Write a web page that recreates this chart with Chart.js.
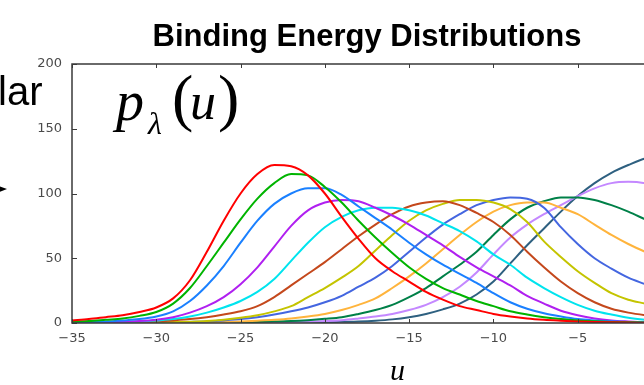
<!DOCTYPE html>
<html>
<head>
<meta charset="utf-8">
<script src="https://cdn.jsdelivr.net/npm/chart.js@4.4.1/dist/chart.umd.min.js"></script>
<style>
  html, body { margin: 0; padding: 0; background: #fff; overflow: hidden; width: 644px; height: 385px; }
  #wrap { position: absolute; left: 0; top: 0; width: 734px; height: 385px; }
  .ov { position: absolute; white-space: nowrap; color: #000; line-height: 1; }
  .serif { font-family: "Liberation Serif", "Times New Roman", serif; }
  #arrow { position: absolute; left: -1px; top: 186px; width: 0; height: 0;
           border-left: 8px solid #000; border-top: 3.5px solid transparent; border-bottom: 3.5px solid transparent; }
</style>
</head>
<body>
<div id="wrap"><canvas id="chart" width="734" height="385"></canvas></div>

<!-- slide text around the plot -->
<div class="ov" style="left:-2px; top:71px; font-size:40px; font-family:'Liberation Sans', Arial, sans-serif;">lar</div>
<div id="arrow"></div>
<div class="ov serif" style="left:116px; top:73px; font-size:56px; font-style:italic;">p</div>
<div class="ov serif" style="left:148px; top:107px; font-size:32px; font-style:italic;">λ</div>
<div class="ov serif" style="left:172px; top:66px; font-size:64px;">(</div>
<div class="ov serif" style="left:190px; top:76px; font-size:52px; font-style:italic;">u</div>
<div class="ov serif" style="left:218px; top:66px; font-size:64px;">)</div>
<div class="ov serif" style="left:390px; top:355px; font-size:30px; font-style:italic;">u</div>

<script>
// binding energy u (x), one value per unit
const uValues = [-35,-34,-33,-32,-31,-30,-29,-28,-27,-26,-25,-24,-23,-22,-21,-20,-19,-18,
                 -17,-16,-15,-14,-13,-12,-11,-10,-9,-8,-7,-6,-5,-4,-3,-2,-1,0];

// p_lambda(u), one array per lambda
const red     = [2,3,4.5,6,8.5,12,19,33,55,79,100,115,122,121,114,100,82,65,
                 50,40,32,24,18,13,10,7,5,3.5,2.5,1.8,1.2,0.8,0.5,0.3,0.2,0.1];
const green   = [1,1.5,2.5,3.5,5.5,8.5,15,27,44,62,80,96,108,115,114,105,93,79,
                 66,54,43,34,27,22,17,13,9,6.5,4.5,3,2,1.3,0.8,0.5,0.3,0.2];
const blue    = [0.5,0.8,1.2,2,3,5,9,17,29,44,62,79,92,100,104,104,99,90,
                 81,72,62,53,45,38,31,23,16,11,7.5,5,3,2,1.3,0.8,0.5,0.3];
const violet  = [0.2,0.3,0.5,1,1.5,2.5,4.5,8,13,20,30,43,59,75,87,93,95,94,
                 89,83,76,68,60,51,43,36,29,21,15,9.5,6,3.5,2,1.2,0.6,0.3];
const cyan    = [0.2,0.3,0.5,0.8,1.2,2,3,5,8,12,17,24,34,48,62,74,82,87,
                 89,89,87,83,77,71,63,53,45,35,27,20,14,9.5,6.5,4,2.5,1.5];
const brown   = [0.1,0.2,0.3,0.5,0.8,1.2,2,3,4.5,6.5,9,13,20,29,38,47,57,67,
                 76,84,90,93,94,91,85,78,68,55,43,32,23,16,11,8,6,4.5];
const olive   = [0,0.1,0.1,0.2,0.3,0.5,0.7,1,1.5,2.5,4,6,9,13,20,27,35,44,
                 56,68,79,87,92,95,95,93,88,78,63,51,40,31,23,18,15,12];
const royal   = [0,0,0.1,0.1,0.2,0.3,0.5,0.8,1.2,2,3,4.5,6.5,9,12,16,21,28,
                 35,44,55,66,76,84,91,95,97,96,89,74,61,50,42,35,30,25];
const orange  = [0,0,0,0.1,0.1,0.2,0.3,0.4,0.6,0.8,1.2,1.8,2.5,3.5,5,7,10,14,
                 19,27,36,46,57,68,78,86,91,93,93,89,84,76,68,61,55,49];
const dgreen  = [0,0,0,0,0,0.1,0.1,0.2,0.3,0.4,0.6,0.8,1.1,1.5,2.2,3.2,4.5,7,
                 10,14,20,27,36,45,55,68,80,89,94,97,97,95,91,86,80,74];
const lilac   = [0,0,0,0,0,0,0,0.1,0.1,0.2,0.2,0.3,0.4,0.6,1,1.5,2.2,3.5,
                 5,7,10,14,20,28,39,53,66,76,84,91,98,104,108,109,108,105];
const slate   = [0,0,0,0,0,0,0,0,0,0,0.1,0.1,0.2,0.3,0.4,0.6,0.9,1.2,
                 1.8,2.8,4.5,7,10.5,15,22,32,46,60,73,86,98,108,116,122,127,129];

const seriesList  = [red, green, blue, violet, cyan, brown, olive, royal, orange, dgreen, lilac, slate];
const seriesColor = ['#ff0000','#00b400','#1a80ff','#b020f0','#00e4ee','#c4481c',
                     '#c4c400','#4466e0','#ffb43c','#008048','#c488ff','#2e6080'];

const xTicks = [-35,-30,-25,-20,-15,-10,-5,0];
const yTicks = [0,50,100,150,200];

const AXIS = '#3a3a3a';
const TICK_FONT = { family: 'DejaVu Sans', size: 13 };

// frame + inward tick marks (ticks placed through the scales)
const frameTicks = {
  id: 'frameTicks',
  afterDatasetsDraw(chart) {
    const { ctx, chartArea: a, scales: { x, y } } = chart;
    ctx.save();
    ctx.strokeStyle = AXIS;
    ctx.lineWidth = 1.5;
    ctx.beginPath();
    ctx.moveTo(a.left, a.top); ctx.lineTo(a.right, a.top);
    ctx.lineTo(a.right, a.bottom); ctx.lineTo(a.left, a.bottom);
    ctx.closePath();
    ctx.stroke();
    ctx.lineWidth = 1;
    ctx.beginPath();
    xTicks.forEach(v => {
      const px = Math.round(x.getPixelForValue(v)) + 0.5;
      ctx.moveTo(px, a.bottom); ctx.lineTo(px, a.bottom - 4);
      ctx.moveTo(px, a.top);    ctx.lineTo(px, a.top + 4);
    });
    yTicks.forEach(v => {
      const py = Math.round(y.getPixelForValue(v)) + 0.5;
      ctx.moveTo(a.left, py);  ctx.lineTo(a.left + 5, py);
      ctx.moveTo(a.right, py); ctx.lineTo(a.right - 5, py);
    });
    ctx.stroke();
    ctx.restore();
  }
};

new Chart(document.getElementById('chart'), {
  type: 'line',
  data: {
    datasets: seriesList.map((vals, i) => ({
      data: uValues.map((u, k) => ({ x: u, y: vals[k] })),
      borderColor: seriesColor[i],
      borderWidth: 2,
      pointRadius: 0,
      cubicInterpolationMode: 'monotone',
      fill: false
    }))
  },
  options: {
    responsive: false,
    animation: false,
    devicePixelRatio: 1,
    layout: { padding: 0 },
    plugins: {
      legend: { display: false },
      tooltip: { enabled: false },
      title: {
        display: true,
        text: 'Binding Energy Distributions',
        color: '#000',
        font: { family: 'Liberation Sans', size: 31, weight: 'bold', lineHeight: 1.2 },
        padding: { top: 19, bottom: 7.8 }
      }
    },
    scales: {
      x: {
        type: 'linear',
        min: -35, max: 0,
        grid: { display: false, drawTicks: false },
        border: { display: false },
        afterFit: s => { s.height = 62; },
        afterBuildTicks: s => { s.ticks = xTicks.map(v => ({ value: v })); },
        ticks: {
          color: '#4a4a4a', font: TICK_FONT, padding: 8, maxRotation: 0,
          callback: v => v < 0 ? '\u2212' + Math.abs(v) : String(v)
        }
      },
      y: {
        min: 0, max: 200,
        grid: { display: false, drawTicks: false },
        border: { display: false },
        afterFit: s => { s.width = 72; },
        afterBuildTicks: s => { s.ticks = yTicks.map(v => ({ value: v })); },
        ticks: { color: '#4a4a4a', font: TICK_FONT, padding: 10 }
      },
      // empty right-hand axis: only reserves the strip right of the plot
      yRight: {
        position: 'right',
        display: true,
        grid: { display: false, drawTicks: false },
        border: { display: false },
        ticks: { display: false },
        afterFit: s => { s.width = 72; }
      }
    }
  },
  plugins: [frameTicks]
});
</script>
</body>
</html>
